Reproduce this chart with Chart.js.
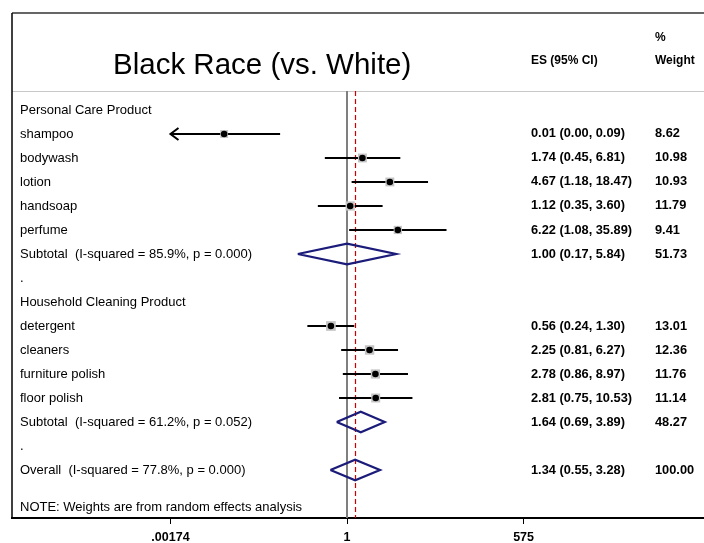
<!DOCTYPE html>
<html><head><meta charset="utf-8">
<script src="https://cdn.jsdelivr.net/npm/chart.js@4"></script>
<style>html,body{margin:0;padding:0;background:#fff;}canvas{display:block;}</style>
</head><body>
<canvas id="c" width="704" height="543"></canvas>
<script>
// ---- data ----
const rowLabels = [
  'Personal Care Product','shampoo','bodywash','lotion','handsoap','perfume',
  'Subtotal  (I-squared = 85.9%, p = 0.000)','.',
  'Household Cleaning Product','detergent','cleaners','furniture polish','floor polish',
  'Subtotal  (I-squared = 61.2%, p = 0.052)','.',
  'Overall  (I-squared = 77.8%, p = 0.000)'
];
const esLabels = ['','0.01 (0.00, 0.09)','1.74 (0.45, 6.81)','4.67 (1.18, 18.47)','1.12 (0.35, 3.60)','6.22 (1.08, 35.89)','1.00 (0.17, 5.84)','','','0.56 (0.24, 1.30)','2.25 (0.81, 6.27)','2.78 (0.86, 8.97)','2.81 (0.75, 10.53)','1.64 (0.69, 3.89)','','1.34 (0.55, 3.28)'];
const weightLabels = ['','8.62','10.98','10.93','11.79','9.41','51.73','','','13.01','12.36','11.76','11.14','48.27','','100.00'];

const studyRows = [1,2,3,4,5,9,10,11,12];
const studyES = [0.012,1.74,4.67,1.12,6.22,0.56,2.25,2.78,2.81];
const studyLo = [0.00,0.45,1.18,0.35,1.08,0.24,0.81,0.86,0.75];
const studyHi = [0.09,6.81,18.47,3.60,35.89,1.30,6.27,8.97,10.53];
const studyWeight = [8.62,10.98,10.93,11.79,9.41,13.01,12.36,11.76,11.14];

const poolRows = [6,13,15];
const poolES = [1.00,1.64,1.34];
const poolLo = [0.17,0.69,0.55];
const poolHi = [5.84,3.89,3.28];

const xTickValues = [0.00174, 1, 575];
const xTickLabels = ['.00174','1','575'];

const titleText = 'Black Race (vs. White)';
const noteText = 'NOTE: Weights are from random effects analysis';

// ---- chart ----
const FONT = '"Liberation Sans", Arial, sans-serif';
const clipMin = xTickValues[0];
const DH = 0.43; // diamond half height (rows)

const datasets = [];
studyRows.forEach((r,i)=>{
  datasets.push({
    type:'line', data:[{x:Math.max(studyLo[i],clipMin),y:r},{x:studyHi[i],y:r}],
    borderColor:'#000', borderWidth:2, pointRadius:0, showLine:true, order:3
  });
});
datasets.push({
  type:'scatter', data:studyRows.map((r,i)=>({x:studyES[i],y:r})),
  pointStyle:'rect', backgroundColor:'#c4c4c4', borderWidth:0,
  pointRadius:studyWeight.map(w=>6.3*Math.sqrt(w/11)), order:2
});
datasets.push({
  type:'scatter', data:studyRows.map((r,i)=>({x:studyES[i],y:r})),
  pointStyle:'circle', backgroundColor:'#000', borderWidth:0, pointRadius:3.3, order:1
});
poolRows.forEach((r,i)=>{
  datasets.push({
    type:'line',
    data:[{x:poolLo[i],y:r},{x:poolES[i],y:r-DH},{x:poolHi[i],y:r},{x:poolES[i],y:r+DH},{x:poolLo[i],y:r}],
    borderColor:'#1b1b7a', borderWidth:2.2, pointRadius:0, showLine:true, fill:false, order:0,
    borderJoinStyle:'miter'
  });
});

const forestPlugin = {
  id:'forest',
  beforeDatasetsDraw(chart){
    const {ctx, chartArea:a, scales:{x,y}} = chart;
    const yHead = Math.round(y.getPixelForValue(-0.79));
    ctx.save();
    ctx.strokeStyle = '#c8c8c8'; ctx.lineWidth = 1;
    ctx.beginPath(); ctx.moveTo(a.left, yHead+0.5); ctx.lineTo(a.right, yHead+0.5); ctx.stroke();
    const x1 = Math.round(x.getPixelForValue(1));
    ctx.strokeStyle = '#7f7f7f'; ctx.lineWidth = 2;
    ctx.beginPath(); ctx.moveTo(x1, yHead); ctx.lineTo(x1, a.bottom); ctx.stroke();
    const xo = Math.round(x.getPixelForValue(poolES[2]))+0.5;
    ctx.strokeStyle = '#cc0000'; ctx.lineWidth = 1.2; ctx.setLineDash([5,3]);
    ctx.beginPath(); ctx.moveTo(xo, yHead); ctx.lineTo(xo, a.bottom); ctx.stroke();
    ctx.restore();
  },
  afterDatasetsDraw(chart){
    const {ctx, chartArea:a, scales:{x,y}} = chart;
    ctx.save();
    // frame
    ctx.strokeStyle = '#666'; ctx.lineWidth = 2;
    ctx.beginPath(); ctx.moveTo(a.left, a.top); ctx.lineTo(a.right, a.top); ctx.stroke();
    ctx.strokeStyle = '#000'; ctx.lineWidth = 1.5;
    ctx.beginPath(); ctx.moveTo(a.left, a.top); ctx.lineTo(a.left, a.bottom); ctx.stroke();
    // arrow for truncated CI
    studyRows.forEach((r,i)=>{
      if (studyLo[i] < clipMin) {
        const tx = x.getPixelForValue(clipMin), ty = y.getPixelForValue(r);
        ctx.strokeStyle = '#000'; ctx.lineWidth = 2;
        ctx.beginPath(); ctx.moveTo(tx+8, ty-6); ctx.lineTo(tx, ty); ctx.lineTo(tx+8, ty+6); ctx.stroke();
      }
    });
    // texts
    ctx.fillStyle = '#000'; ctx.textBaseline = 'middle'; ctx.textAlign = 'left';
    ctx.font = '29.5px ' + FONT;
    ctx.fillText(titleText, 113, y.getPixelForValue(-1.83));
    ctx.font = 'bold 12px ' + FONT;
    ctx.fillText('ES (95% CI)', 531, y.getPixelForValue(-2.04));
    ctx.fillText('%', 655, y.getPixelForValue(-3.0));
    ctx.fillText('Weight', 655, y.getPixelForValue(-2.04));
    rowLabels.forEach((t,r)=>{
      const yy = y.getPixelForValue(r);
      ctx.font = '13px ' + FONT;
      ctx.fillText(t, 20, yy);
      ctx.font = 'bold 12.8px ' + FONT;
      if (esLabels[r]) ctx.fillText(esLabels[r], 531, yy);
      if (weightLabels[r]) ctx.fillText(weightLabels[r], 655, yy);
    });
    ctx.font = '13px ' + FONT;
    ctx.fillText(noteText, 20, y.getPixelForValue(16.55));
    ctx.restore();
  }
};

new Chart(document.getElementById('c'), {
  type:'scatter',
  data:{datasets},
  options:{
    responsive:false, animation:false,
    layout:{autoPadding:false, padding:{left:12, top:13, right:0, bottom:0}},
    plugins:{legend:{display:false}, tooltip:{enabled:false}},
    scales:{
      x:{
        type:'logarithmic', position:'bottom', min:5.8e-6, max:3.8e5, bounds:'data',
        afterBuildTicks(scale){ scale.ticks = xTickValues.map(v=>({value:v})); },
        afterFit(scale){ scale.height = 25; },
        grid:{display:true, drawOnChartArea:false, drawTicks:true, tickLength:6, color:'#000', lineWidth:1},
        border:{display:true, color:'#000', width:2},
        ticks:{autoSkip:false, maxRotation:0, padding:6, color:'#000',
          font:{family:FONT, size:12.5, weight:'bold'},
          callback:(v,i)=>xTickLabels[i]}
      },
      y:{type:'linear', display:false, reverse:true, min:-4.04, max:17.0}
    }
  },
  plugins:[forestPlugin]
});
</script>
</body></html>
